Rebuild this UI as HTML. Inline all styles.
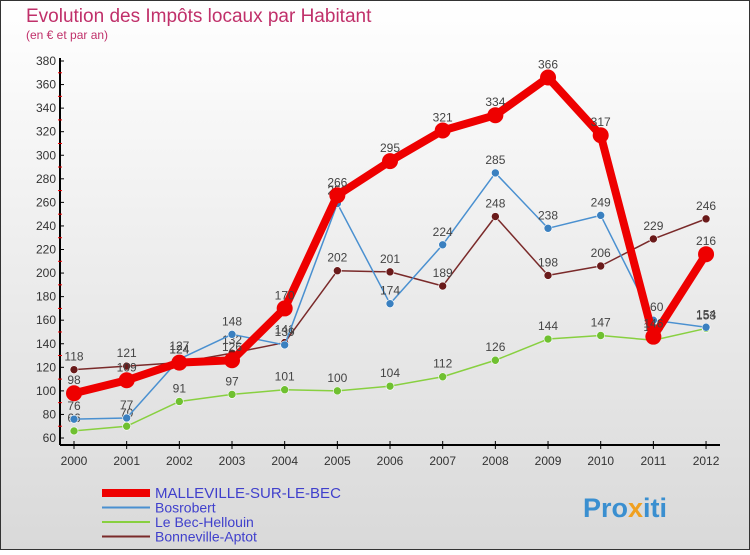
<!DOCTYPE html>
<html><head><meta charset="utf-8"><style>
body{margin:0;width:750px;height:550px;overflow:hidden;font-family:"Liberation Sans",sans-serif}
svg text{font-family:"Liberation Sans",sans-serif}
</style></head><body>
<svg id="c" width="750" height="550" xmlns="http://www.w3.org/2000/svg">
<defs><linearGradient id="bg" x1="0" y1="0" x2="0" y2="1"><stop offset="0" stop-color="#ffffff"/><stop offset="1" stop-color="#d9d9d9"/></linearGradient></defs>
<rect x="0.5" y="0.5" width="749" height="549" fill="url(#bg)" stroke="#333"/>
<text x="26" y="22" font-size="19" fill="#c0306a">Evolution des Impôts locaux par Habitant</text>
<text x="26" y="39" font-size="12" fill="#c0306a">(en € et par an)</text>
<g id="axes"></g><g id="series"></g><g id="legend"></g>
<text x="583" y="517" font-size="27" font-weight="bold" fill="#3a8fd0">Pro<tspan fill="#f0a020">x</tspan><tspan fill="#3a8fd0">iti</tspan></text>
</svg>
<script>
const years=['2000','2001','2002','2003','2004','2005','2006','2007','2008','2009','2010','2011','2012'];
const yTicks=[60,80,100,120,140,160,180,200,220,240,260,280,300,320,340,360,380];
const seriesNames=['MALLEVILLE-SUR-LE-BEC','Bosrobert','Le Bec-Hellouin','Bonneville-Aptot'];
const malleville=[98,109,124,126,170,266,295,321,334,366,317,146,216];
const bosrobert=[76,77,127,148,139,259,174,224,285,238,249,160,154];
const lebec=[66,70,91,97,101,100,104,112,126,144,147,143,153];
const bonneville=[118,121,124,132,141,202,201,189,248,198,206,229,246];
const NS='http://www.w3.org/2000/svg';
const X=i=>74+i*52.67, Y=v=>438-(v-60)*(377/320);
function mk(t,a,p){const e=document.createElementNS(NS,t);for(const k in a)e.setAttribute(k,a[k]);p.appendChild(e);return e;}
const ax=document.getElementById('axes');
let l=mk('line',{x1:60,y1:58,x2:60,y2:445,stroke:'#000','stroke-width':2},ax);


l=mk('line',{x1:60,y1:445,x2:720,y2:445,stroke:'#000','stroke-width':2},ax);


yTicks.forEach((v,i)=>{
 mk('line',{x1:60,y1:Y(v),x2:64,y2:Y(v),stroke:'#000'},ax);
 if(i<yTicks.length-1)mk('line',{x1:58,y1:Y(v+10),x2:62,y2:Y(v+10),stroke:'#e00'},ax);
 const t=mk('text',{x:56,y:Y(v)+4,'text-anchor':'end','font-size':12,fill:'#333'},ax);t.textContent=v;
 
 
});
years.forEach((y,i)=>{
 mk('line',{x1:X(i),y1:441,x2:X(i),y2:449,stroke:'#000'},ax);
 const t=mk('text',{x:X(i),y:465,'text-anchor':'middle','font-size':12,fill:'#333'},ax);t.textContent=y;
 
 
});
const sg=document.getElementById('series');
const defs=[[lebec,'#88d040','#6fc030',1.5,4,'le-bec-hellouin'],[bonneville,'#7a2a2a','#6a1a1a',1.5,4,'bonneville-aptot'],[bosrobert,'#4a90d0','#3a80c0',1.5,4,'bosrobert'],[malleville,'#ee0000','#ee0000',8,8,'malleville-sur-le-bec']];
defs.forEach(([d,c,f,w,r,n])=>{
 const g=mk('g',{},sg);
 
 
 const p=mk('polyline',{points:d.map((v,i)=>X(i)+','+Y(v)).join(' '),fill:'none',stroke:c,'stroke-width':w,'stroke-linejoin':'round'},g);
 
 
 d.forEach((v,i)=>{
  const m=mk('circle',{cx:X(i),cy:Y(v),r:r,fill:f,stroke:'#fff','stroke-width':w>2?0:0.6},g);
  
  
  const t=mk('text',{x:X(i),y:Y(v)-9,'text-anchor':'middle','font-size':12,fill:'#444'},g);t.textContent=v;
  
  
 });
});
const lg=document.getElementById('legend');
const lc=[['#ee0000',8],['#4a90d0',2],['#88d040',2],['#7a2a2a',2]];
seriesNames.forEach((s,i)=>{
 const y=493+i*14.5;
 const g=mk('g',{},lg);
 
 
 mk('line',{x1:102,y1:y,x2:150,y2:y,stroke:lc[i][0],'stroke-width':lc[i][1]},g);
 const t=mk('text',{x:155,y:y+5,'font-size':i==0?15:14,fill:'#4040cc'},g);t.textContent=s;
});
</script>
</body></html>
